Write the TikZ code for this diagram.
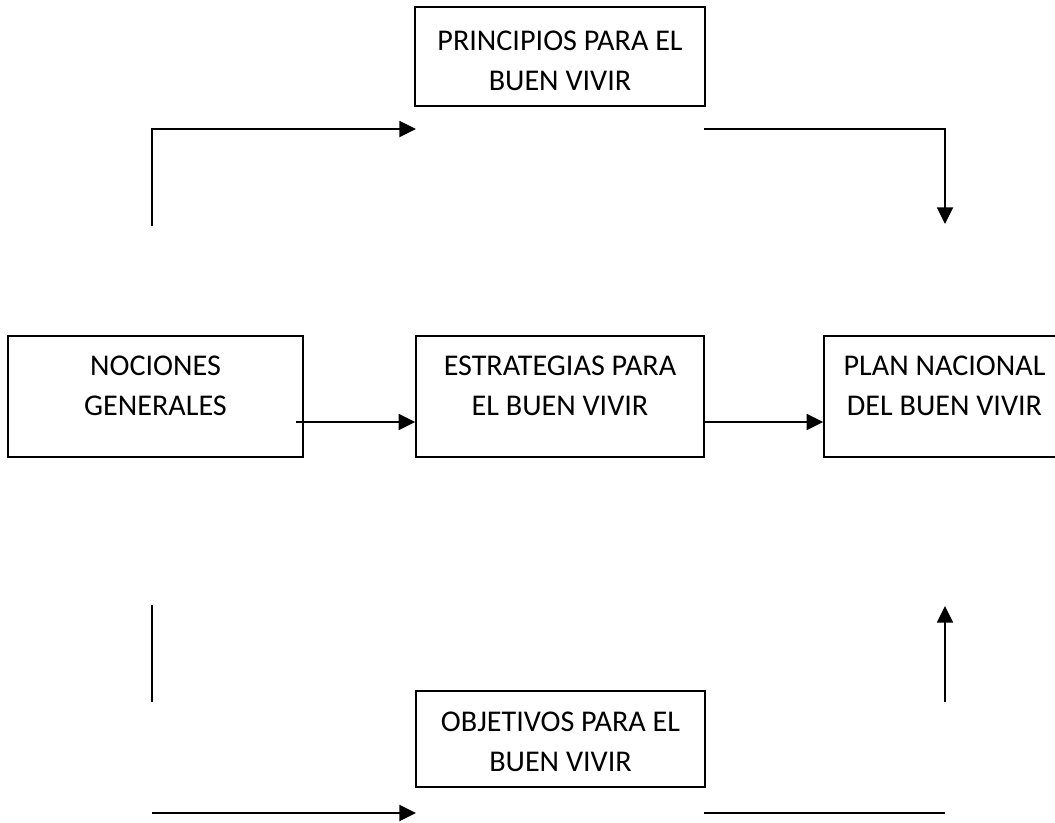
\documentclass[tikz,border=0pt]{standalone}
\usepackage{fontspec}
\setmainfont{Carlito}
\usetikzlibrary{arrows.meta}
\begin{document}
\begin{tikzpicture}[x=0.75pt,y=-0.75pt,
  boxnode/.style={draw=black,line width=1.1pt,rectangle,inner sep=0pt},
  txt/.style={align=center,font=\fontsize{22.6}{30}\selectfont,inner sep=0pt},
  conn/.style={line width=1.4pt},
  arr/.style={conn,-{Triangle[length=12.5pt,width=12pt]}}]
\useasboundingbox (0,0) rectangle (1055,822);
\clip (0,0) rectangle (1055,822);
% boxes
\node[boxnode,minimum width=290*0.75pt,minimum height=99*0.75pt] (P) at (560,56.5) {};
\node[boxnode,minimum width=295*0.75pt,minimum height=121*0.75pt] (N) at (155.5,396.5) {};
\node[boxnode,minimum width=288*0.75pt,minimum height=121*0.75pt] (E) at (560,396.5) {};
\node[boxnode,minimum width=241*0.75pt,minimum height=121*0.75pt] (L) at (944.5,396.5) {};
\node[boxnode,minimum width=289*0.75pt,minimum height=96*0.75pt] (O) at (560.5,739) {};
% texts
\node[txt] (tP) at ([yshift=-55*0.75pt]P.north) {PRINCIPIOS PARA EL\\BUEN VIVIR};
\node[txt] (tN) at ([yshift=-51*0.75pt]N.north) {NOCIONES\\GENERALES};
\node[txt] (tE) at ([yshift=-51*0.75pt]E.north) {ESTRATEGIAS PARA\\EL BUEN VIVIR};
\node[txt] (tL) at ([yshift=-51*0.75pt]L.north) {PLAN NACIONAL\\DEL BUEN VIVIR};
\node[txt] (tO) at ([yshift=-51.5*0.75pt]O.north) {OBJETIVOS PARA EL\\BUEN VIVIR};
% connector coordinates
\coordinate (a1) at (152,226);
\coordinate (a3) at (416,129);
\coordinate (b1) at (704,129);
\coordinate (b3) at (945,224);
\coordinate (m1) at (296,422);
\coordinate (m2) at (704,422);
\coordinate (c1) at (152,605);
\coordinate (c2) at (152,702);
\coordinate (d1) at (152,813);
\coordinate (d2) at (416,813);
\coordinate (e1) at (704,813);
\coordinate (e2) at (945,813);
\coordinate (f1) at (945,702);
\coordinate (f2) at (945,606);
% connectors
\draw[arr] (a1) |- (a3);
\draw[arr] (b1) -| (b3);
\draw[arr] (m1) -- (m1 -| E.west);
\draw[arr] (m2) -- (m2 -| L.west);
\draw[conn] (c1) -- (c2);
\draw[arr] (d1) -- (d2);
\draw[conn] (e1) -- (e2);
\draw[arr] (f1) -- (f2);
\end{tikzpicture}
\end{document}
